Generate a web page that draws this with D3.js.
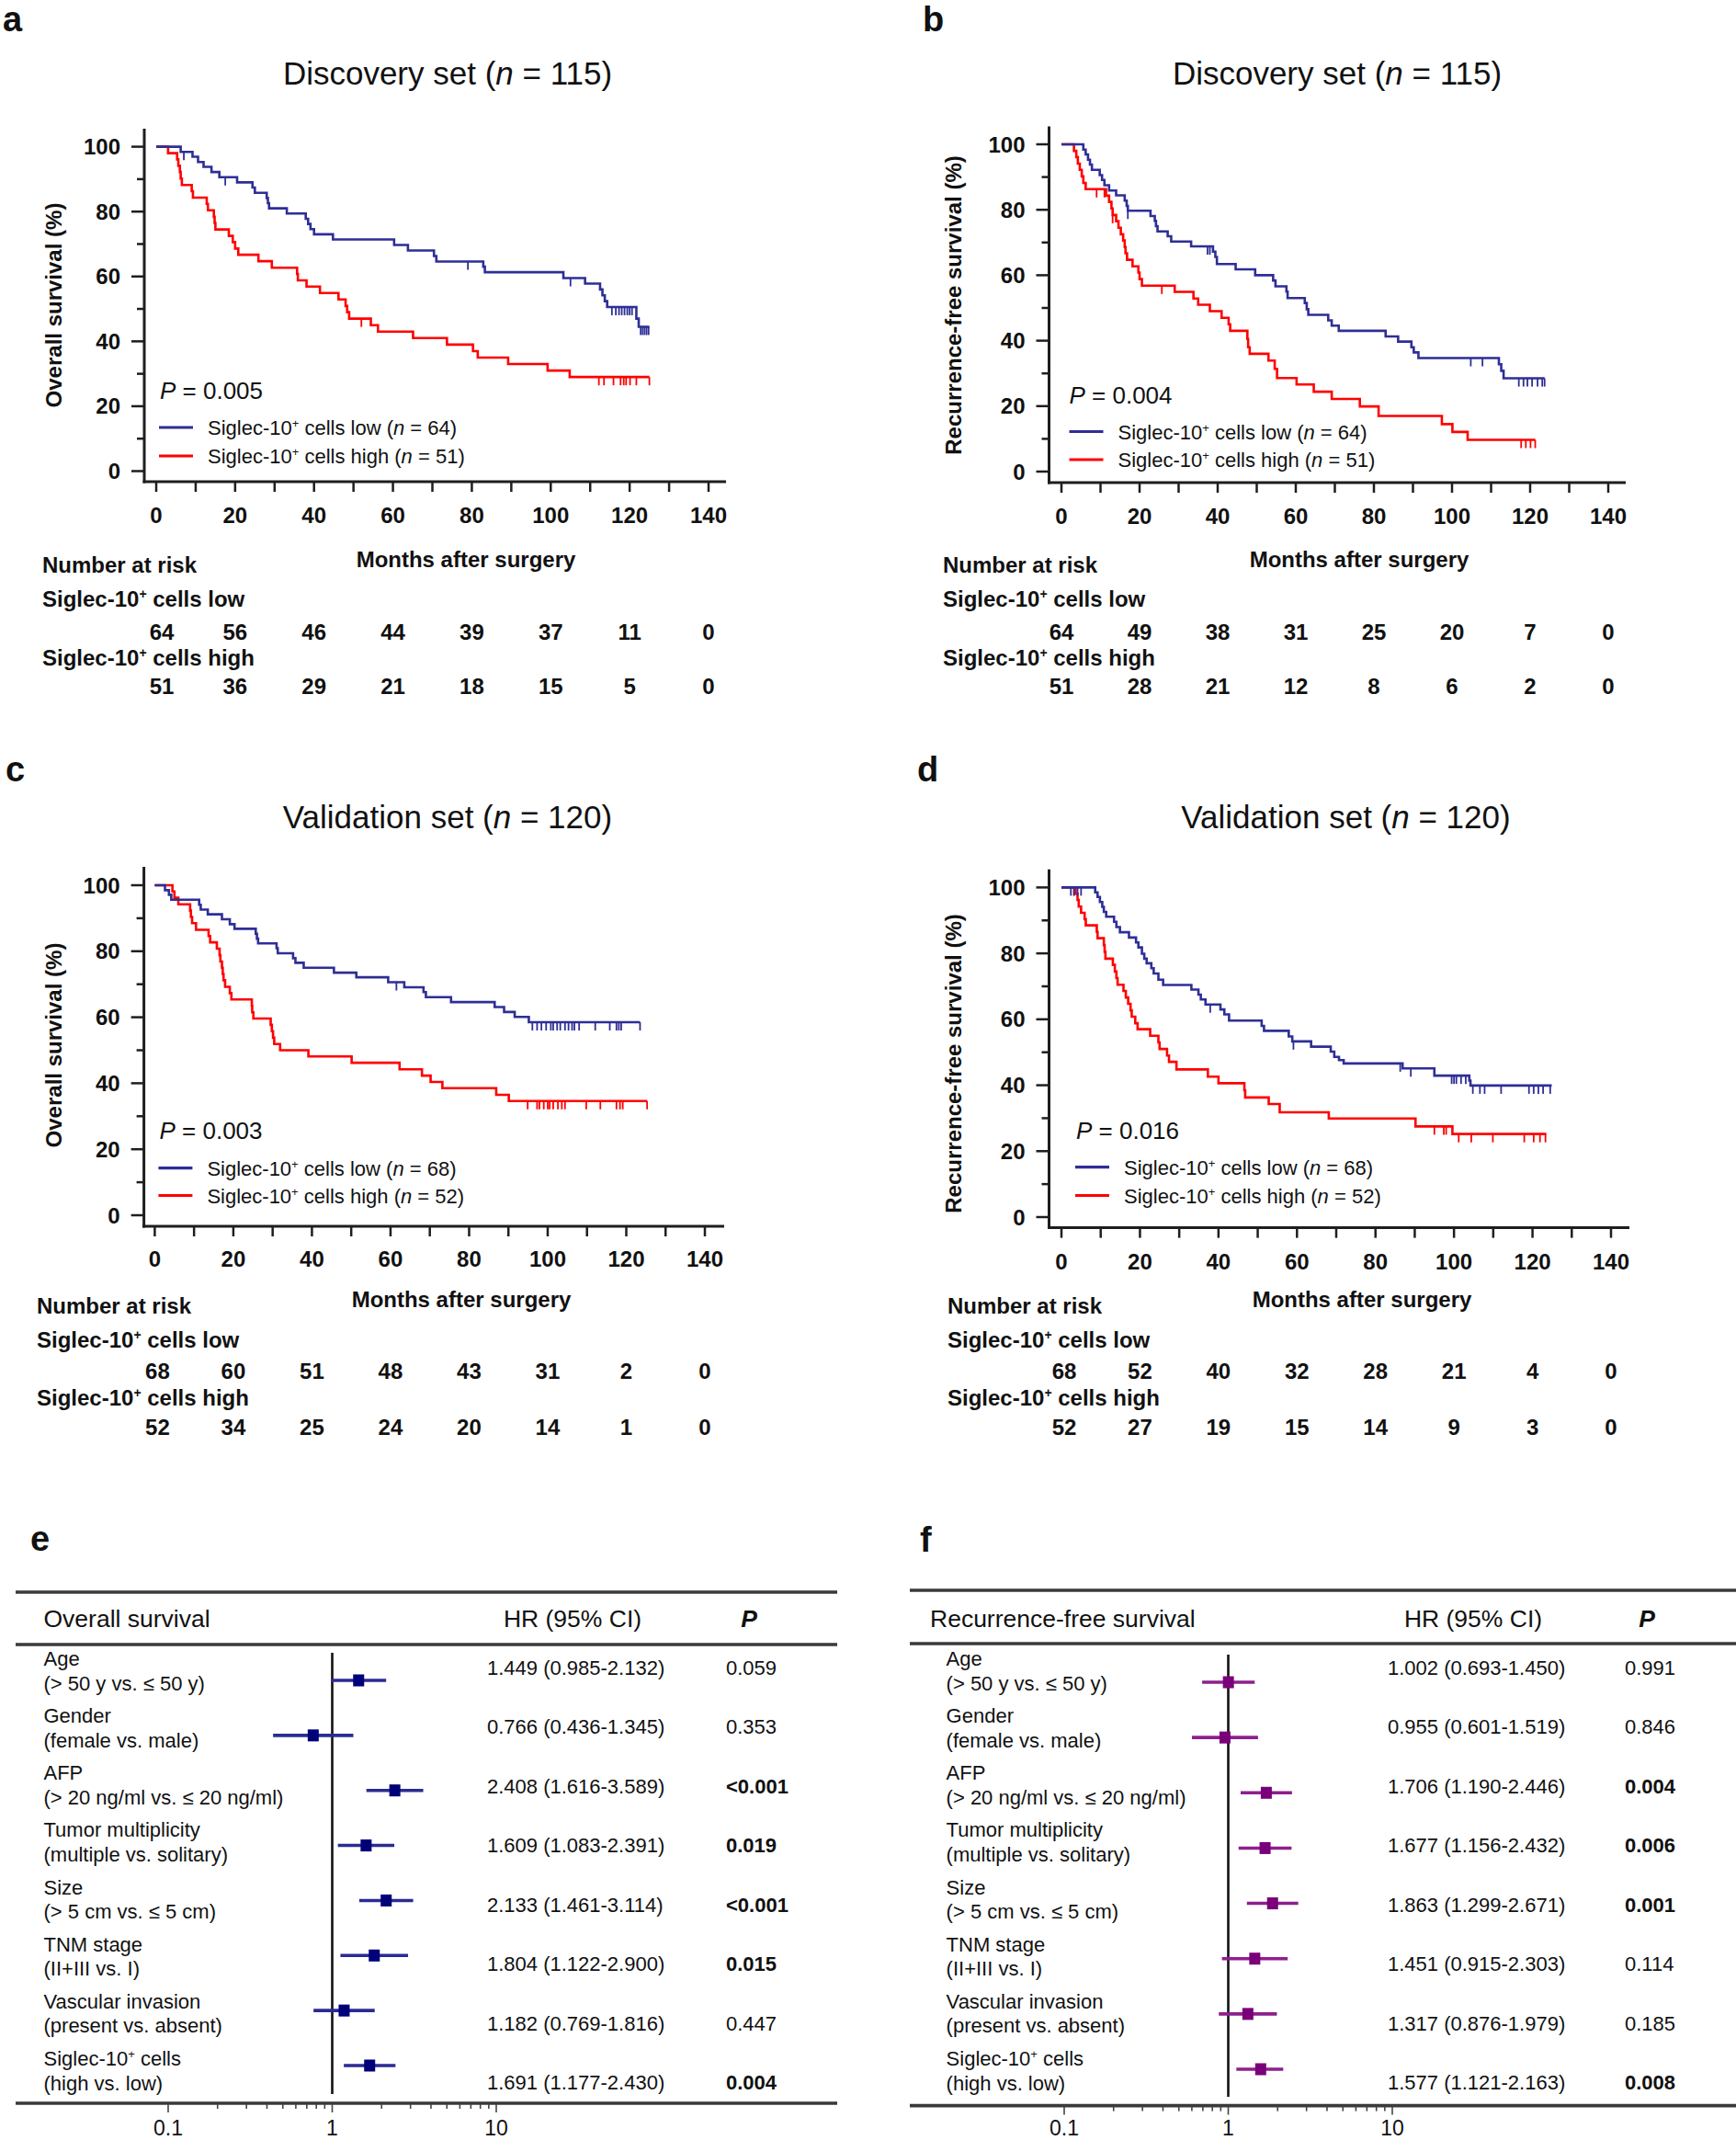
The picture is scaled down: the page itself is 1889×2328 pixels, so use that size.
<!DOCTYPE html>
<html><head><meta charset="utf-8">
<script src="https://cdn.jsdelivr.net/npm/d3@7"></script>
<style>
body{margin:0;background:#fff}
svg{display:block}
text{font-family:"Liberation Sans",Arial,Helvetica,sans-serif;fill:#111;white-space:pre}
</style>
</head><body><script>
// ---------------- DATA ----------------
const monthTicks = [0,20,40,60,80,100,120,140];
const survTicks = [0,20,40,60,80,100];

// Panel a (Discovery, OS)
const aLowSteps = [[0,100],[6.2,98.4],[9.2,96.9],[10.6,95.3],[12,93.8],[14,92.2],[16,90.6],[20.5,89.0],[24.4,87.4],[25,85.8],[28,84.2],[28.3,82.6],[28.6,81.0],[33.1,79.4],[37.9,77.8],[38.5,76.2],[39.1,74.6],[40,73.0],[44.8,71.4],[60.3,69.7],[63.8,68.0],[70.4,66.3],[71,64.6],[82.9,63.0],[83.3,61.3],[103.2,59.5],[108.7,57.8],[112.5,56.0],[113.1,54.2],[113.7,52.4],[114.3,50.6],[121.7,47.0],[122.3,44.5]];
const aLowCensor = [7,17.5,79,105,115.5,116.5,117.3,118,118.7,119.4,120,120.6,122.8,123.3,123.8,124.3,124.8];
const aLowEnd = 125;
const aHighSteps = [[0,100],[3.0,98.0],[5.3,96.1],[5.6,94.1],[6.0,92.2],[6.2,90.2],[6.5,88.2],[9.0,86.3],[9.3,84.3],[12.8,82.4],[13.1,80.4],[14.6,78.4],[14.8,76.5],[15.0,74.5],[18.4,72.5],[19.4,70.6],[20.0,68.6],[20.8,66.7],[25.9,64.7],[29.3,62.7],[35.7,60.8],[35.9,58.8],[38.1,56.9],[41.5,54.9],[46.2,52.9],[48.0,50.9],[48.4,49.0],[48.9,47.0],[54.4,45.0],[56.2,43.0],[65.1,41.0],[73.7,39.0],[80.3,37.0],[81.5,35.0],[89.2,33.0],[99.2,31.0],[104.8,29.0]];
const aHighCensor = [52,112.2,113.5,115.9,117.7,118.5,119.1,120.1,121.7,125];
const aHighEnd = 125;
const aRiskLow = [64,56,46,44,39,37,11,0];
const aRiskHigh = [51,36,29,21,18,15,5,0];

// Panel b (Discovery, RFS)
const bLowSteps = [[0,100],[5.6,98.4],[6.2,96.9],[6.8,95.3],[7.3,93.8],[7.8,92.2],[9.8,90.6],[10.4,89.1],[11.0,87.5],[12.2,85.9],[14.0,84.4],[16.2,82.8],[16.7,81.2],[17.0,79.7],[22.8,78.1],[23.9,76.6],[24.2,75.0],[24.6,73.4],[27.2,71.9],[28.1,70.3],[33.2,68.8],[38.8,67.2],[39.4,65.6],[39.8,63.4],[44.6,61.8],[49.6,60.0],[54.2,58.4],[54.8,56.6],[57.6,55.0],[57.9,53.0],[62.3,51.5],[62.8,49.6],[63.2,47.9],[68.3,46.2],[69.2,44.6],[71.0,43.0],[83.0,41.3],[86.2,39.7],[89.6,38.0],[90.2,36.4],[91.4,34.7],[112.0,32.8],[112.6,30.8],[113.2,28.5]];
const bLowCensor = [17.0,37.4,38.0,104.8,107.8,117.1,118.3,119.3,120.5,121.9,123.1,123.7];
const bLowEnd = 123.7;
const bHighSteps = [[0,100],[3.2,98.0],[3.8,96.1],[4.2,94.1],[4.7,92.2],[5.2,90.2],[5.6,88.2],[6.2,86.3],[11.4,84.3],[12.2,82.4],[12.8,80.4],[13.1,78.4],[14.0,76.5],[14.6,74.5],[15.2,72.5],[15.8,70.6],[16.2,68.6],[16.4,66.7],[16.8,64.7],[18.2,62.7],[19.7,60.8],[20.0,58.8],[20.6,56.8],[29.0,54.9],[33.8,52.9],[35.0,51.0],[38.0,49.0],[41.0,47.0],[42.8,45.0],[43.2,43.0],[47.6,40.5],[47.8,38.0],[48.2,36.0],[53.0,33.9],[54.6,31.4],[55.2,28.6],[60.2,26.6],[64.6,24.4],[69.2,22.2],[76.4,19.9],[81.2,17.0],[97.4,14.5],[100.1,12.1],[104.0,9.7]];
const bHighCensor = [9.0,11.0,13.1,25.7,117.7,118.9,120.1,121.3];
const bHighEnd = 121.3;
const bRiskLow = [64,49,38,31,25,20,7,0];
const bRiskHigh = [51,28,21,12,8,6,2,0];

// Panel c (Validation, OS)
const cLowSteps = [[0,100],[2.6,98.5],[3.6,97.1],[4.2,95.6],[11.3,94.1],[11.7,92.6],[13.5,91.2],[17.1,89.7],[19.1,88.2],[20.3,86.8],[25.7,85.3],[26.0,83.8],[26.3,82.4],[31.0,80.9],[31.3,79.4],[35.2,77.9],[35.8,76.5],[37.9,75.0],[45.6,73.5],[51.3,72.1],[59.4,70.6],[63.5,69.1],[68.4,67.6],[69.0,66.1],[75.4,64.6],[86.5,63.1],[88.9,61.6],[91.6,60.1],[95.2,58.5]];
const cLowCensor = [61.5,96.1,97.3,98.4,99.6,100.8,101.4,102.4,103.2,104.4,105.3,106.2,106.8,108.0,112.1,115.8,117.5,118.1,118.7,123.5];
const cLowEnd = 123.5;
const cHighSteps = [[0,100],[4.5,98.1],[5.0,96.2],[6.0,94.2],[9.0,92.3],[9.2,90.4],[9.5,88.5],[10.5,86.5],[13.7,84.6],[14.1,82.7],[15.8,80.8],[16.5,78.8],[16.7,76.9],[17.1,75.0],[17.3,73.1],[17.5,71.2],[17.9,69.2],[19.1,67.3],[19.5,65.4],[24.7,63.5],[24.8,61.5],[25.1,59.6],[29.5,57.7],[29.8,55.8],[30.1,53.8],[30.4,51.9],[31.9,50.0],[39.1,48.1],[50.1,46.2],[62.3,44.2],[68.0,42.3],[70.2,40.4],[73.2,38.5],[86.9,36.5],[90.1,34.6]];
const cHighCensor = [94.9,97.3,97.9,99.0,100.0,100.5,101.4,102.6,103.6,104.4,109.8,113.4,117.5,118.4,119.1,125.3];
const cHighEnd = 125.3;
const cRiskLow = [68,60,51,48,43,31,2,0];
const cRiskHigh = [52,34,25,24,20,14,1,0];

// Panel d (Validation, RFS)
const dLowSteps = [[0,100],[8.6,98.5],[9.2,97.1],[9.8,95.6],[10.4,94.1],[10.8,92.6],[11.4,91.1],[13.4,89.6],[14.0,88.0],[14.9,86.4],[17.2,84.8],[19.0,83.3],[19.6,81.8],[20.5,79.9],[21.1,78.4],[21.7,77.0],[22.9,75.5],[23.5,73.9],[24.7,72.0],[25.9,70.4],[33.1,69.0],[34.9,67.5],[35.5,66.0],[36.7,64.5],[40.5,63.0],[41.5,61.5],[42.7,59.6],[51.0,58.0],[51.6,56.5],[57.9,54.8],[58.8,53.3],[63.6,51.7],[68.6,50.2],[69.5,48.6],[70.7,47.6],[71.9,46.6],[86.9,45.1],[95.0,42.9],[103.9,41.4],[104.2,39.9]];
const dLowCensor = [2.4,3.2,4.1,5.0,37.9,59.1,86.3,89.0,99.4,100.0,100.6,101.8,103.0,104.8,106.6,107.8,112.0,119.1,120.3,121.5,122.7,124.5];
const dLowEnd = 124.9;
const dHighSteps = [[0,100],[3.6,98.1],[4.1,96.2],[4.4,94.2],[5.0,92.3],[5.9,90.4],[6.2,88.5],[9.0,86.5],[9.2,84.6],[10.8,82.5],[11.0,80.5],[11.2,78.4],[13.1,76.5],[13.6,74.5],[14.0,72.5],[14.3,70.5],[15.8,68.6],[16.4,66.6],[17.0,64.7],[17.6,62.7],[17.9,60.8],[18.8,58.8],[19.4,57.0],[22.6,55.0],[24.7,53.0],[25.0,51.0],[26.9,49.0],[27.4,47.1],[29.3,44.8],[37.3,42.6],[40.0,40.6],[46.6,38.5],[46.8,36.3],[52.8,34.3],[55.6,31.8],[68.1,29.9],[90.2,27.5],[99.6,25.2]];
const dHighCensor = [3.2,95.0,97.4,98.0,101.2,104.4,109.9,117.9,120.3,121.9,123.3];
const dHighEnd = 123.5;
const dRiskLow = [68,52,40,32,28,21,4,0];
const dRiskHigh = [52,27,19,15,14,9,3,0];

// Forest plots (multivariate Cox)
const forestRows1 = ['Age','Gender','AFP','Tumor multiplicity','Size','TNM stage','Vascular invasion','Siglec-10^+ cells'];
const forestRows2 = ['(> 50 y vs. \u2264 50 y)','(female vs. male)','(> 20 ng/ml vs. \u2264 20 ng/ml)','(multiple vs. solitary)','(> 5 cm vs. \u2264 5 cm)','(II+III vs. I)','(present vs. absent)','(high vs. low)'];
const osHR   = [1.449,0.766,2.408,1.609,2.133,1.804,1.182,1.691];
const osLow  = [0.985,0.436,1.616,1.083,1.461,1.122,0.769,1.177];
const osHigh = [2.132,1.345,3.589,2.391,3.114,2.900,1.816,2.430];
const osP    = ['0.059','0.353','<0.001','0.019','<0.001','0.015','0.447','0.004'];
const rfsHR   = [1.002,0.955,1.706,1.677,1.863,1.451,1.317,1.577];
const rfsLow  = [0.693,0.601,1.190,1.156,1.299,0.915,0.876,1.121];
const rfsHigh = [1.450,1.519,2.446,2.432,2.671,2.303,1.979,2.163];
const rfsP    = ['0.991','0.846','0.004','0.006','0.001','0.114','0.185','0.008'];
const hrTicks = [0.1,1,10];

// ---------------- DRAWING ----------------
const W = 1889, H = 2328;
const svg = d3.select('body').append('svg').attr('width', W).attr('height', H);
const AX = '#1e1e1e', BLUE = '#2e2e96', RED = '#ff0000';

function rich(sel, str, supSize, supShift) {
  const parts = str.split(/(\^\+|\*[^*]+\*)/).filter(s => s.length);
  let pend = 0;
  parts.forEach(p => {
    const ts = sel.append('tspan');
    if (p === '^+') { ts.attr('font-size', supSize).attr('dy', -supShift).text('+'); pend = supShift; }
    else {
      if (pend) { ts.attr('dy', pend); pend = 0; }
      if (p[0] === '*') ts.attr('font-style', 'italic').text(p.slice(1, -1));
      else ts.text(p);
    }
  });
  return sel;
}

function survAt(steps, t) {
  let s = steps[0][1];
  for (const st of steps) { if (st[0] <= t) s = st[1]; else break; }
  return s;
}

function drawKM(L, series, riskLow, riskHigh, txt) {
  const g = svg.append('g');
  const x = d3.scaleLinear().domain([0, 140]).range([L.x0, L.x1]);
  const y = d3.scaleLinear().domain([0, 100]).range([L.yb, L.yt]);

  g.append('text').attr('x', L.lx).attr('y', L.ly).attr('font-size', 38).attr('font-weight', 'bold').text(txt.letter);
  rich(g.append('text').attr('x', L.tx).attr('y', L.ty).attr('text-anchor', 'middle').attr('font-size', 35), txt.title);

  // axes
  g.append('line').attr('x1', L.ax).attr('x2', L.ax).attr('y1', L.axTop).attr('y2', L.ay + 1.5)
    .attr('stroke', AX).attr('stroke-width', 3);
  g.append('line').attr('x1', L.ax - 1.5).attr('x2', L.axRight).attr('y1', L.ay).attr('y2', L.ay)
    .attr('stroke', AX).attr('stroke-width', 3);
  g.selectAll(null).data(d3.range(0, 101, 10)).join('line')
    .attr('x1', d => L.ax - (d % 20 === 0 ? 14 : 8)).attr('x2', L.ax)
    .attr('y1', d => y(d)).attr('y2', d => y(d)).attr('stroke', AX).attr('stroke-width', 2.5);
  g.selectAll(null).data(survTicks).join('text')
    .attr('x', L.ax - 26).attr('y', d => y(d) + 8.5).attr('text-anchor', 'end')
    .attr('font-size', 24).attr('font-weight', 'bold').text(d => d);
  g.selectAll(null).data(d3.range(0, 141, 10)).join('line')
    .attr('x1', d => x(d)).attr('x2', d => x(d)).attr('y1', L.ay).attr('y2', L.ay + 11)
    .attr('stroke', AX).attr('stroke-width', 2.5);
  g.selectAll(null).data(monthTicks).join('text')
    .attr('x', d => x(d)).attr('y', L.tly).attr('text-anchor', 'middle')
    .attr('font-size', 24).attr('font-weight', 'bold').text(d => d);
  g.append('text').attr('transform', `translate(${L.ylx},${L.yly}) rotate(-90)`)
    .attr('text-anchor', 'middle').attr('font-size', 24).attr('font-weight', 'bold').text(txt.ylabel);

  // curves (high first, low on top)
  const line = d3.line().x(d => x(d[0])).y(d => y(d[1])).curve(d3.curveStepAfter);
  series.forEach(s => {
    const pts = s.steps.concat([[s.end, s.steps[s.steps.length - 1][1]]]);
    g.append('path').attr('d', line(pts)).attr('fill', 'none').attr('stroke', s.color)
      .attr('stroke-width', 2.6).attr('stroke-linejoin', 'miter');
    g.selectAll(null).data(s.censor).join('line')
      .attr('x1', d => x(d)).attr('x2', d => x(d))
      .attr('y1', d => y(survAt(s.steps, d))).attr('y2', d => y(survAt(s.steps, d)) + 9)
      .attr('stroke', s.color).attr('stroke-width', 1.8);
  });

  // P value + legend
  rich(g.append('text').attr('x', L.px).attr('y', L.py).attr('font-size', 26), txt.p);
  [[BLUE, txt.leg[0]], [RED, txt.leg[1]]].forEach((it, i) => {
    const ly = L.legY[i];
    g.append('line').attr('x1', L.legX).attr('x2', L.legX + 37).attr('y1', ly).attr('y2', ly)
      .attr('stroke', it[0]).attr('stroke-width', 3.2);
    rich(g.append('text').attr('x', L.legX + 53).attr('y', ly + 8).attr('font-size', 22), it[1], 13, 8);
  });

  // risk table
  g.append('text').attr('x', L.rx).attr('y', L.rNum).attr('font-size', 24).attr('font-weight', 'bold').text('Number at risk');
  g.append('text').attr('x', L.mx).attr('y', L.my).attr('text-anchor', 'middle').attr('font-size', 24).attr('font-weight', 'bold').text('Months after surgery');
  rich(g.append('text').attr('x', L.rx).attr('y', L.rLowLab).attr('font-size', 24).attr('font-weight', 'bold'), 'Siglec-10^+ cells low', 14, 9);
  rich(g.append('text').attr('x', L.rx).attr('y', L.rHighLab).attr('font-size', 24).attr('font-weight', 'bold'), 'Siglec-10^+ cells high', 14, 9);
  [[riskLow, L.rLowNum], [riskHigh, L.rHighNum]].forEach(r => {
    g.selectAll(null).data(r[0]).join('text')
      .attr('x', (d, i) => x(monthTicks[i]) + (i === 0 ? L.r0dx : 0)).attr('y', r[1]).attr('text-anchor', 'middle')
      .attr('font-size', 24).attr('font-weight', 'bold').text(d => d);
  });
}

const riskTop = {rNum: 623, my: 617, rLowLab: 660, rLowNum: 696, rHighLab: 724, rHighNum: 755};
const riskBot = {rNum: 1429, my: 1422, rLowLab: 1466, rLowNum: 1500, rHighLab: 1529, rHighNum: 1561};

drawKM(Object.assign({lx: 3, ly: 34, x0: 170, x1: 771, yt: 159.6, yb: 512.5, ax: 157, axTop: 140, ay: 524, axRight: 790,
  tx: 487, ty: 92, ylx: 67, yly: 332, tly: 569, px: 174, py: 434, legX: 173, legY: [465, 496], rx: 46, mx: 507, r0dx: 6}, riskTop),
  [{steps: aHighSteps, censor: aHighCensor, end: aHighEnd, color: RED}, {steps: aLowSteps, censor: aLowCensor, end: aLowEnd, color: BLUE}],
  aRiskLow, aRiskHigh,
  {letter: 'a', title: 'Discovery set (*n* = 115)', ylabel: 'Overall survival (%)', p: '*P* = 0.005',
   leg: ['Siglec-10^+ cells low (*n* = 64)', 'Siglec-10^+ cells high (*n* = 51)']});

drawKM(Object.assign({lx: 1004, ly: 34, x0: 1155, x1: 1750, yt: 157, yb: 513, ax: 1141.5, axTop: 137.5, ay: 525, axRight: 1769,
  tx: 1455, ty: 92, ylx: 1046, yly: 332, tly: 570, px: 1163.5, py: 438.5, legX: 1163.5, legY: [469.5, 500], rx: 1026, mx: 1479, r0dx: 0}, riskTop),
  [{steps: bHighSteps, censor: bHighCensor, end: bHighEnd, color: RED}, {steps: bLowSteps, censor: bLowCensor, end: bLowEnd, color: BLUE}],
  bRiskLow, bRiskHigh,
  {letter: 'b', title: 'Discovery set (*n* = 115)', ylabel: 'Recurrence-free survival (%)', p: '*P* = 0.004',
   leg: ['Siglec-10^+ cells low (*n* = 64)', 'Siglec-10^+ cells high (*n* = 51)']});

drawKM(Object.assign({lx: 6, ly: 850, x0: 168.4, x1: 767, yt: 963, yb: 1322, ax: 156.6, axTop: 943, ay: 1334, axRight: 788,
  tx: 487, ty: 901, ylx: 67, yly: 1137, tly: 1378, px: 173.5, py: 1238.5, legX: 172.4, legY: [1270.6, 1300.5], rx: 40, mx: 502, r0dx: 3}, riskBot),
  [{steps: cHighSteps, censor: cHighCensor, end: cHighEnd, color: RED}, {steps: cLowSteps, censor: cLowCensor, end: cLowEnd, color: BLUE}],
  cRiskLow, cRiskHigh,
  {letter: 'c', title: 'Validation set (*n* = 120)', ylabel: 'Overall survival (%)', p: '*P* = 0.003',
   leg: ['Siglec-10^+ cells low (*n* = 68)', 'Siglec-10^+ cells high (*n* = 52)']});

drawKM(Object.assign({lx: 998, ly: 850, x0: 1155, x1: 1753, yt: 965.4, yb: 1324, ax: 1141.5, axTop: 945.7, ay: 1335.6, axRight: 1773,
  tx: 1464.5, ty: 901, ylx: 1046, yly: 1157, tly: 1381, px: 1171, py: 1238.5, legX: 1170, legY: [1269.6, 1300.5], rx: 1031, mx: 1482, r0dx: 3}, riskBot),
  [{steps: dHighSteps, censor: dHighCensor, end: dHighEnd, color: RED}, {steps: dLowSteps, censor: dLowCensor, end: dLowEnd, color: BLUE}],
  dRiskLow, dRiskHigh,
  {letter: 'd', title: 'Validation set (*n* = 120)', ylabel: 'Recurrence-free survival (%)', p: '*P* = 0.016',
   leg: ['Siglec-10^+ cells low (*n* = 68)', 'Siglec-10^+ cells high (*n* = 52)']});

function drawForest(L, HR, LO, HI, P, txt) {
  const g = svg.append('g');
  const x = d3.scaleLog().domain([0.1, 10]).range([L.x01, L.x10]);
  const idx = d3.range(HR.length);
  const yM = d3.scalePoint().domain(idx).range([L.m0, L.m1]);
  const yL = d3.scalePoint().domain(idx).range([L.l0, L.l1]);
  const yV = d3.scalePoint().domain(idx).range([L.v0, L.v1]);

  g.append('text').attr('x', L.lx).attr('y', L.ly).attr('font-size', 38).attr('font-weight', 'bold').text(txt.letter);
  [L.topY, L.hdrY, L.botY].forEach(yy => {
    g.append('line').attr('x1', L.lineX0).attr('x2', L.lineX1).attr('y1', yy).attr('y2', yy)
      .attr('stroke', '#3a3a3a').attr('stroke-width', 3.6);
  });
  g.append('text').attr('x', L.hx).attr('y', L.hy).attr('font-size', 26.5).text(txt.header);
  g.append('text').attr('x', L.hrx).attr('y', L.hy).attr('text-anchor', 'middle').attr('font-size', 26.5).text('HR (95% CI)');
  g.append('text').attr('x', L.phx).attr('y', L.hy).attr('text-anchor', 'middle').attr('font-size', 26.5)
    .attr('font-weight', 'bold').attr('font-style', 'italic').text('P');

  // labels
  idx.forEach(i => {
    rich(g.append('text').attr('x', L.labX).attr('y', yL(i)).attr('font-size', 22), forestRows1[i], 13, 8);
    g.append('text').attr('x', L.labX).attr('y', yL(i) + 26.5).attr('font-size', 22).text(forestRows2[i]);
    g.append('text').attr('x', L.valX).attr('y', yV(i)).attr('font-size', 22)
      .text(`${HR[i].toFixed(3)} (${LO[i].toFixed(3)}-${HI[i].toFixed(3)})`);
    const sig = P[i][0] === '<' || +P[i] < 0.05;
    g.append('text').attr('x', L.pX).attr('y', yV(i)).attr('font-size', 22)
      .attr('font-weight', sig ? 'bold' : 'normal').text(P[i]);
  });

  // reference line at HR = 1
  g.append('line').attr('x1', x(1)).attr('x2', x(1)).attr('y1', L.vTop).attr('y2', L.vBot)
    .attr('stroke', '#111').attr('stroke-width', 2.6);

  // CI + squares
  g.selectAll(null).data(idx).join('line')
    .attr('x1', i => x(LO[i])).attr('x2', i => x(HI[i])).attr('y1', i => yM(i)).attr('y2', i => yM(i))
    .attr('stroke', L.lineColor).attr('stroke-width', 3.6);
  g.selectAll(null).data(idx).join('rect')
    .attr('x', i => x(HR[i]) - 6).attr('y', i => yM(i) - 6.5).attr('width', 12).attr('height', 13)
    .attr('fill', L.boxColor);

  // log axis ticks
  g.selectAll(null).data(x.ticks()).join('line')
    .attr('x1', d => x(d)).attr('x2', d => x(d)).attr('y1', L.botY + 1)
    .attr('y2', d => L.botY + (hrTicks.includes(+d.toPrecision(3)) ? 10 : 6))
    .attr('stroke', '#444').attr('stroke-width', 1.6);
  g.selectAll(null).data(hrTicks).join('text')
    .attr('x', d => x(d)).attr('y', L.tickY).attr('text-anchor', 'middle').attr('font-size', 23).text(d => d);
}

drawForest({lx: 33, ly: 1687, x01: 183, x10: 540, m0: 1828, m1: 2247, l0: 1812, l1: 2247, v0: 1822, v1: 2273,
  topY: 1732, hdrY: 1789, botY: 2288, lineX0: 17, lineX1: 911, hx: 47.5, hy: 1770, hrx: 623, phx: 815,
  labX: 47.5, valX: 530, pX: 790, vTop: 1798, vBot: 2278, tickY: 2323, lineColor: '#2b2b92', boxColor: '#000078'},
  osHR, osLow, osHigh, osP, {letter: 'e', header: 'Overall survival'});

drawForest({lx: 1001, ly: 1688, x01: 1158, x10: 1515, m0: 1830, m1: 2251, l0: 1812, l1: 2247, v0: 1822, v1: 2273,
  topY: 1730, hdrY: 1788, botY: 2290.6, lineX0: 990, lineX1: 1889, hx: 1012, hy: 1770, hrx: 1603, phx: 1792,
  labX: 1029.6, valX: 1510, pX: 1768, vTop: 1800, vBot: 2281, tickY: 2323, lineColor: '#8e1f8e', boxColor: '#7a007a'},
  rfsHR, rfsLow, rfsHigh, rfsP, {letter: 'f', header: 'Recurrence-free survival'});
</script></body></html>
